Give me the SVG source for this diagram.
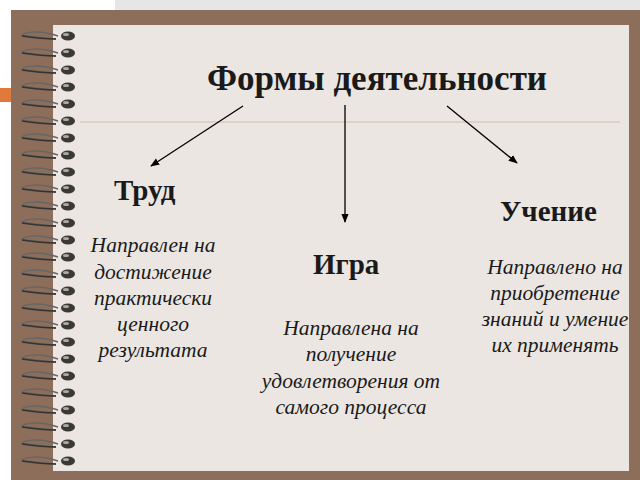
<svg xmlns="http://www.w3.org/2000/svg" width="640" height="480" viewBox="0 0 640 480">
<defs>
<style>
.t{font-family:"Liberation Serif","DejaVu Serif",serif;fill:#1a1a1a}
.h{font-weight:bold;font-size:29px}
.d{font-style:italic;font-size:21.5px;text-anchor:middle}
.c{stroke:#000;stroke-width:1.3;fill:none}
</style>
<marker id="a" viewBox="0 0 10 10" refX="9" refY="5" markerWidth="7" markerHeight="7" orient="auto"><path d="M0,1 L10,5 L0,9 z" fill="#000"/></marker>
<g id="ring"><path d="M58,3 C40,-3 25,-1 22,2 C30,4 44,5 56,6" fill="none" stroke="#666" stroke-width="1.5"/><path d="M22,3 C35,5 45,6 56,6" stroke="#333" stroke-width="1.5" fill="none"/><ellipse cx="68" cy="3" rx="7" ry="4.5" fill="#3a3a30"/><ellipse cx="66" cy="1.5" rx="3" ry="1.5" fill="#aaa"/></g>
</defs>
<rect width="640" height="480" fill="#fff"/>
<rect x="115" y="0" width="525" height="12" fill="#e6e6e6"/>
<rect x="0" y="88" width="20" height="14" fill="#e07a3a"/>
<rect x="11" y="10" width="629" height="470" fill="#8d6e5a"/>
<rect x="53" y="25" width="576" height="446" fill="#ece6e2"/>
<g id="spiral">
<use href="#ring" y="33"/><use href="#ring" y="50"/><use href="#ring" y="67"/><use href="#ring" y="84"/><use href="#ring" y="101"/><use href="#ring" y="118"/><use href="#ring" y="135"/><use href="#ring" y="152"/><use href="#ring" y="169"/><use href="#ring" y="186"/><use href="#ring" y="203"/><use href="#ring" y="220"/><use href="#ring" y="237"/><use href="#ring" y="254"/><use href="#ring" y="271"/><use href="#ring" y="288"/><use href="#ring" y="305"/><use href="#ring" y="322"/><use href="#ring" y="339"/><use href="#ring" y="356"/><use href="#ring" y="373"/><use href="#ring" y="390"/><use href="#ring" y="407"/><use href="#ring" y="424"/><use href="#ring" y="441"/><use href="#ring" y="458"/>
</g>
<line x1="80" y1="122" x2="620" y2="122" stroke="#cbbfa6" stroke-width="1.2"/>
<g id="title"><text class="t" x="377" y="90" font-size="35" font-weight="bold" text-anchor="middle">Формы деятельности</text></g>
<g id="connectors">
<line class="c" x1="243" y1="106" x2="151" y2="166" marker-end="url(#a)"/>
<line class="c" x1="345" y1="105" x2="345" y2="222" marker-end="url(#a)"/>
<line class="c" x1="447" y1="106" x2="517" y2="163" marker-end="url(#a)"/>
</g>
<g id="trud"><text class="t h" x="114" y="200">Труд</text>
<text class="t d" x="153" y="252">Направлен на</text><text class="t d" x="153" y="279">достижение</text><text class="t d" x="153" y="305">практически</text><text class="t d" x="153" y="331">ценного</text><text class="t d" x="153" y="357">результата</text></g>
<g id="igra"><text class="t h" x="313" y="274">Игра</text>
<text class="t d" x="351" y="335">Направлена на</text><text class="t d" x="351" y="361">получение</text><text class="t d" x="351" y="388">удовлетворения от</text><text class="t d" x="351" y="414">самого процесса</text></g>
<g id="uchenie"><text class="t h" x="500" y="221">Учение</text>
<text class="t d" x="555" y="274">Направлено на</text><text class="t d" x="555" y="300">приобретение</text><text class="t d" x="555" y="326">знаний и умение</text><text class="t d" x="555" y="352">их применять</text></g>
</svg>
